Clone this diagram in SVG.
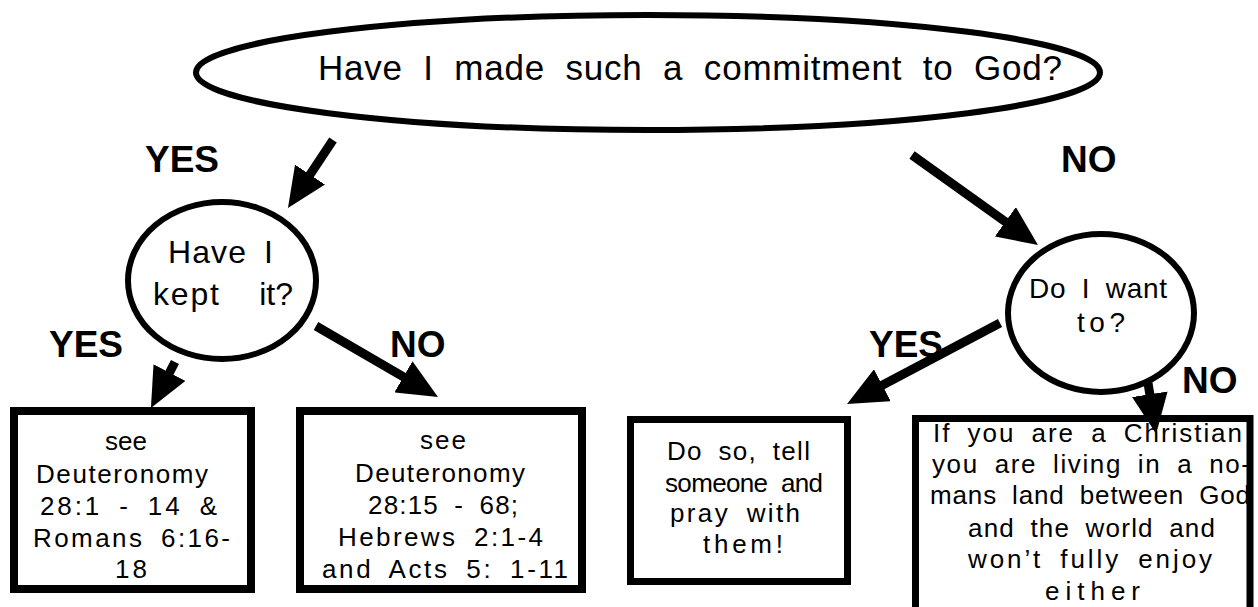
<svg xmlns="http://www.w3.org/2000/svg" width="1258" height="607" viewBox="0 0 1258 607">
<style>
.sh{fill:#fff;stroke:#000}
.t{font-family:"Liberation Sans","Arial",sans-serif;fill:#000;word-spacing:7px}
.lb{font-family:"Liberation Sans","Arial",sans-serif;font-weight:bold;font-size:37px;fill:#000}
.bx{font-size:26px}
.ar{stroke:#000;stroke-width:9;fill:none;marker-end:url(#ah)}
</style>
<defs>
<marker id="ah" viewBox="0 0 40 36" refX="20" refY="18" markerWidth="40" markerHeight="36" markerUnits="userSpaceOnUse" orient="auto">
<path d="M0,0 L40,18 L0,36 z" fill="#000"/>
</marker>
</defs>
<rect width="1258" height="607" fill="#fff"/>
<g id="q1">
<ellipse class="sh" cx="648" cy="72.5" rx="452" ry="57.5" stroke-width="6"/>
<text class="t" x="318" y="80" font-size="35" style="word-spacing:10px" textLength="744" lengthAdjust="spacing">Have I made such a commitment to God?</text>
</g>
<g id="q2">
<ellipse class="sh" cx="222" cy="280.5" rx="94" ry="78.5" stroke-width="6"/>
<text class="t" x="168" y="263" font-size="32" textLength="105" lengthAdjust="spacing">Have I</text>
<text class="t" x="153" y="305" font-size="32" textLength="66" lengthAdjust="spacing">kept</text>
<text class="t" x="293" y="305" font-size="32" text-anchor="end">it?</text>
</g>
<g id="q3">
<ellipse class="sh" cx="1101" cy="313" rx="93" ry="79" stroke-width="6"/>
<text class="t" x="1029" y="298" font-size="28" textLength="138" lengthAdjust="spacing">Do I want</text>
<text class="t" x="1077" y="332" font-size="28" textLength="48" lengthAdjust="spacing">to?</text>
</g>
<g id="b1">
<rect class="sh" x="14" y="411" width="237" height="178" stroke-width="8"/>
<text class="t bx" x="105" y="450" textLength="42" lengthAdjust="spacing">see</text>
<text class="t bx" x="36" y="483" textLength="172" lengthAdjust="spacing">Deuteronomy</text>
<text class="t bx" x="40" y="515" textLength="177" lengthAdjust="spacing">28:1 - 14 &amp;</text>
<text class="t bx" x="33" y="547" textLength="197" lengthAdjust="spacing">Romans 6:16-</text>
<text class="t bx" x="115" y="578" textLength="32" lengthAdjust="spacing">18</text>
</g>
<g id="b2">
<rect class="sh" x="300" y="411" width="282" height="178" stroke-width="8"/>
<text class="t bx" x="420" y="449" textLength="46" lengthAdjust="spacing">see</text>
<text class="t bx" x="355" y="482" textLength="170" lengthAdjust="spacing">Deuteronomy</text>
<text class="t bx" x="368" y="514" textLength="150" lengthAdjust="spacing">28:15 - 68;</text>
<text class="t bx" x="338" y="546" textLength="205" lengthAdjust="spacing">Hebrews 2:1-4</text>
<text class="t bx" x="322" y="578" textLength="246" lengthAdjust="spacing">and Acts 5: 1-11</text>
</g>
<g id="b3">
<rect class="sh" x="630.5" y="419.5" width="217" height="162" stroke-width="7"/>
<text class="t bx" x="667" y="460" textLength="143" lengthAdjust="spacing">Do so, tell</text>
<text class="t bx" x="665" y="492" textLength="158" lengthAdjust="spacing">someone and</text>
<text class="t bx" x="670" y="522" textLength="130" lengthAdjust="spacing">pray with</text>
<text class="t bx" x="703" y="553" textLength="80" lengthAdjust="spacing">them!</text>
</g>
<g id="b4">
<rect class="sh" x="915.5" y="418.5" width="334.5" height="205" stroke-width="7"/>
<text class="t bx" x="933" y="442" textLength="309" lengthAdjust="spacing">If you are a Christian</text>
<text class="t bx" x="932" y="473" textLength="318" lengthAdjust="spacing">you are living in a no-</text>
<text class="t bx" x="930" y="504" textLength="320" lengthAdjust="spacing">mans land between God</text>
<text class="t bx" x="968" y="537" textLength="247" lengthAdjust="spacing">and the world and</text>
<text class="t bx" x="968" y="568" textLength="244" lengthAdjust="spacing">won’t fully enjoy</text>
<text class="t bx" x="1045" y="600" textLength="95" lengthAdjust="spacing">either</text>
</g>
<g id="connectors">
<line class="ar" x1="333" y1="140" x2="299" y2="191.3"/>
<line class="ar" x1="912" y1="155" x2="1021.7" y2="233.4"/>
<line class="ar" x1="175" y1="362" x2="160.2" y2="390.3"/>
<line class="ar" x1="316" y1="326" x2="420.7" y2="386.9"/>
<line class="ar" x1="1000" y1="323" x2="864.7" y2="394.6"/>
<line class="ar" x1="1148" y1="383" x2="1153" y2="414"/>
</g>
<g id="labels">
<text class="lb" x="145" y="172">YES</text>
<text class="lb" x="1061" y="172">NO</text>
<text class="lb" x="49" y="357">YES</text>
<text class="lb" x="390" y="357">NO</text>
<text class="lb" x="869" y="357">YES</text>
<text class="lb" x="1182" y="393">NO</text>
</g>
</svg>
